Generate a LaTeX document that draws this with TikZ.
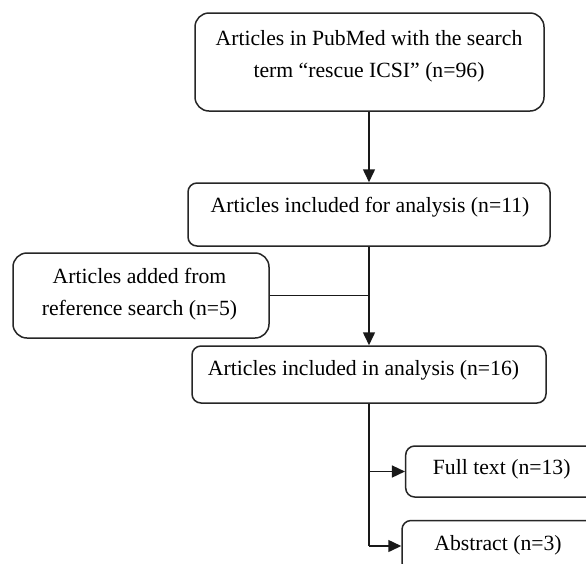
\documentclass[tikz,border=0pt]{standalone}
\usepackage{fontspec}
\setmainfont{Liberation Serif}
\usetikzlibrary{arrows.meta}
\begin{document}
\begin{tikzpicture}[x=1pt,y=-1pt,
  box/.style={draw=black!85, line width=1.5pt, rounded corners=9pt, inner sep=0pt, fill=white},
  bigbox/.style={box, rounded corners=14pt},
  txt/.style={inner sep=0pt, align=center, font=\fontsize{21.7}{32}\selectfont, text=black},
  line/.style={draw=black!90, line width=1.5pt},
  arr/.style={line, -{Triangle[length=13pt,width=12pt]}}]
\useasboundingbox (0,0) rectangle (586,563);
\clip (0,0) rectangle (586,563);
\fill[white] (0,0) rectangle (586,563);
% boxes
\node[bigbox, minimum width=349pt, minimum height=98pt] (b1) at (369.5,62) {};
\node[box, minimum width=362pt, minimum height=63pt] (b2) at (369,214.5) {};
\node[bigbox, minimum width=256pt, minimum height=85pt] (b3) at (141,295.5) {};
\node[box, minimum width=354pt, minimum height=57pt] (b4) at (369,374.5) {};
\node[box, minimum width=192pt, minimum height=51pt] (b5) at (501.7,471.5) {};
\node[box, minimum width=192pt, minimum height=51pt] (b6) at (498,546) {};
% texts
\node[txt] (t1) at (369,56) {Articles in PubMed with the search\\term “rescue ICSI” (n=96)};
\node[txt] (t2) at (370,207.5) {Articles included for analysis (n=11)};
\node[txt] (t3) at (139.5,294.5) {Articles added from\\reference search (n=5)};
\node[txt] (t4) at (363.5,370.5) {Articles included in analysis (n=16)};
\node[txt] (t5) at (501.7,469.5) {Full text (n=13)};
\node[txt] (t6) at (498,545.5) {Abstract (n=3)};
% connectors
\draw[arr] (b1.south -| b2.south) -- (b2.north);
\draw[arr] (b2.south) -- (b4.north);
\draw[line] (b3.east) -- (b3.east -| b2.south);
\draw[line] (b4.south) -- (b4.south |- b6.west);
\draw[arr] (b4.south |- b5.west) -- (b5.west);
\draw[arr] (b4.south |- b6.west) -- (b6.west);
\end{tikzpicture}
\end{document}
